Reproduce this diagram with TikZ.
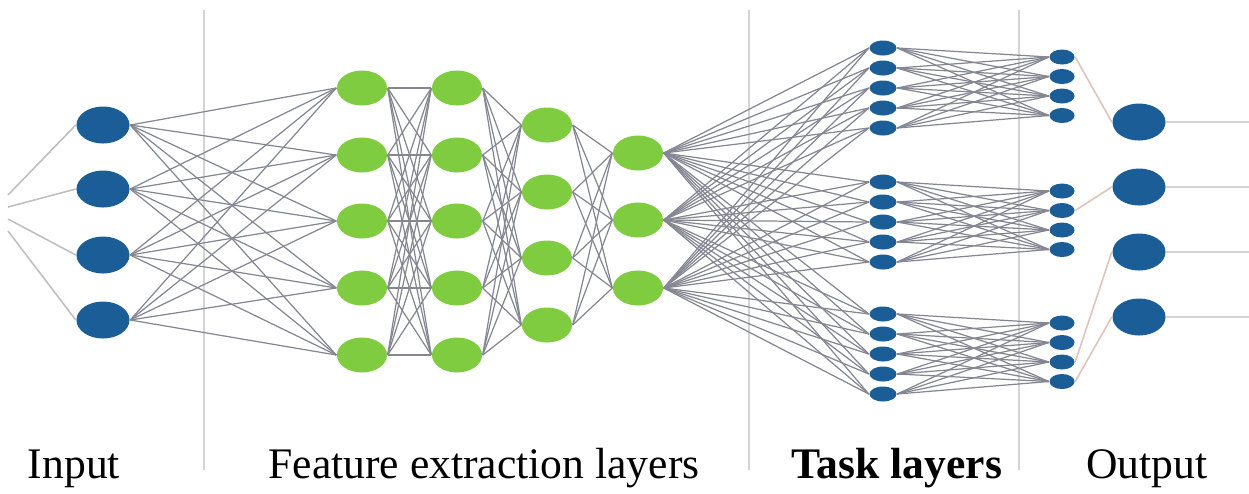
\documentclass[tikz,border=0pt]{standalone}
\usepackage{fontspec}
\setmainfont{Liberation Serif}
\usetikzlibrary{shapes.geometric}
\definecolor{nodeblue}{RGB}{27,93,150}
\definecolor{nodegreen}{RGB}{128,204,64}
\definecolor{edgegray}{RGB}{132,134,146}
\definecolor{sepgray}{RGB}{212,212,212}
\definecolor{outpink}{RGB}{222,196,186}
\tikzset{
  bignode/.style={ellipse,fill=nodeblue,minimum width=0.53cm,minimum height=0.37cm,inner sep=0pt},
  featnode/.style={ellipse,fill=nodegreen,minimum width=0.5cm,minimum height=0.35cm,inner sep=0pt},
  tasknode/.style={ellipse,fill=nodeblue,minimum width=0.27cm,minimum height=0.15cm,inner sep=0pt},
  link/.style={draw=edgegray,line width=0.35pt},
  faint/.style={draw=outpink,line width=0.45pt},
  sepline/.style={draw=sepgray,line width=0.8pt},
  caption/.style={anchor=base,inner sep=0pt,font=\fontsize{12.4}{14}\selectfont}
}
\begin{document}
\begin{tikzpicture}[x=0.01cm,y=-0.01cm]
    \useasboundingbox (0,0) rectangle (1249,493);
    % separadores verticales
    \draw[sepline] (204,10) -- (204,470);
    \draw[sepline] (749,10) -- (749,470);
    \draw[sepline] (1019,10) -- (1019,470);
    % input layer
    \foreach \i/\y in {1/125,2/189,3/255,4/320}{
        \node[bignode] (in\i) at (103,\y) {};
        \coordinate (src\i) at (8,183+12*\i);
    }
    % feature extraction layers
    \foreach \i/\y in {1/88,2/155,3/221,4/288,5/355}{
        \node[featnode] (fa\i) at (362,\y) {};
        \node[featnode] (fb\i) at (457,\y) {};
    }
    \foreach \i/\y in {1/125,2/192,3/258,4/325}
        \node[featnode] (fc\i) at (547,\y) {};
    \foreach \i/\y in {1/153,2/220,3/288}
        \node[featnode] (fd\i) at (638,\y) {};
    % task layers
    \foreach \g/\y in {1/48,2/182,3/314}
        \foreach \k in {1,...,5}
            \node[tasknode] (ta\g\k) at (883,\y+20*\k-20) {};
    \foreach \g/\y in {1/57,2/191,3/323}
        \foreach \k in {1,...,4}
            \node[tasknode,minimum width=0.25cm] (tb\g\k) at (1062,\y+19.5*\k-19.5) {};
    % output layer
    \foreach \i/\y in {1/122,2/187,3/252,4/317}{
        \node[bignode] (out\i) at (1139,\y) {};
        \coordinate (end\i) at (1249,\y);
    }
    % connections
    \foreach \i in {1,...,4}
        \draw[faint,draw=black!25] (src\i) -- (in\i.west);
    \foreach \i in {1,...,4}
        \foreach \j in {1,...,5}
            \draw[link] (in\i.east) -- (fa\j.west);
    \foreach \i in {1,...,5}
        \foreach \j in {1,...,5}
            \draw[link] (fa\i.east) -- (fb\j.west);
    \foreach \i in {1,...,5}
        \foreach \j in {1,...,4}
            \draw[link] (fb\i.east) -- (fc\j.west);
    \foreach \i in {1,...,4}
        \foreach \j in {1,...,3}
            \draw[link] (fc\i.east) -- (fd\j.west);
    \foreach \i in {1,...,3}
        \foreach \g in {1,2,3}
            \foreach \k in {1,...,5}
                \draw[link] (fd\i.east) -- (ta\g\k.west);
    \foreach \g in {1,2,3}
        \foreach \k in {1,...,5}
            \foreach \m in {1,...,4}
                \draw[link] (ta\g\k.east) -- (tb\g\m.west);
    \draw[faint] (tb11.east) -- (out1.west);
    \draw[faint] (tb22.east) -- (out2.west);
    \draw[faint] (tb33.east) -- (out3.west);
    \draw[faint] (tb34.east) -- (out4.west);
    \foreach \i in {1,...,4}
        \draw[sepline] (out\i.east) -- (end\i);
    % labels
    \node[caption] (lblin) at (74,478) {Input};
    \node[caption] (lblfeat) at (484,478) {Feature extraction layers};
    \node[caption] (lbltask) at (897,478) {\bfseries Task layers};
    \node[caption] (lblout) at (1147,478) {Output};
\end{tikzpicture}
\end{document}
